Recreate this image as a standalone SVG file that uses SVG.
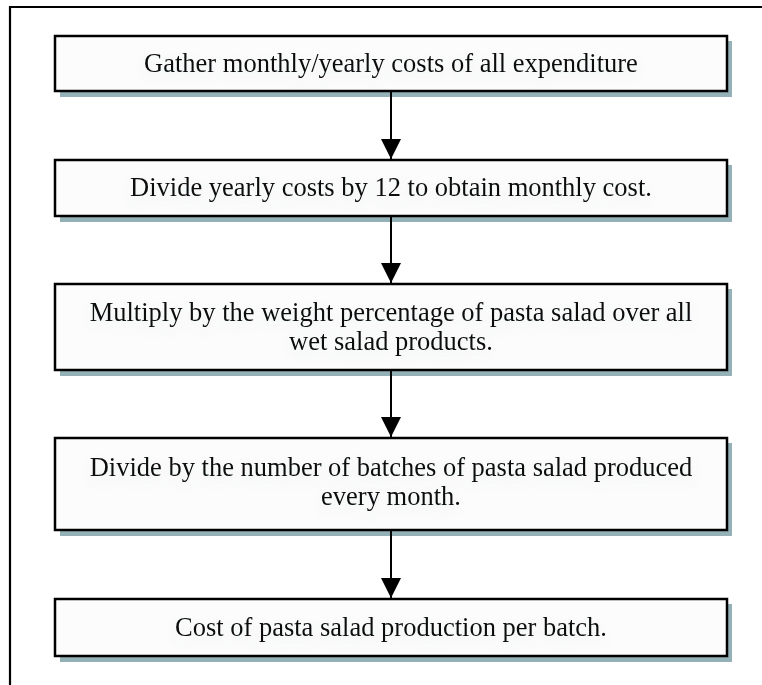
<svg xmlns="http://www.w3.org/2000/svg" width="762" height="685" viewBox="0 0 762 685">
  <defs>
    <style>
      .shadow { fill: #93B1B7; stroke: none; }
      .box { fill: #FCFCFC; stroke: #000; stroke-width: 2.5; }
      .label { font-family: "Liberation Serif", "Times New Roman", serif; font-size: 26.5px; fill: #111; text-anchor: middle; }
      .conn { stroke: #000; stroke-width: 2; fill: none; }
      .frame { stroke: #000; stroke-width: 2.2; fill: none; }
    </style>
    <filter id="glow" x="-10%" y="-60%" width="120%" height="220%">
      <feGaussianBlur in="SourceAlpha" stdDeviation="6" result="b"/>
      <feOffset in="b" dx="0" dy="5" result="o"/>
      <feFlood flood-color="#6f8a90" flood-opacity="0.12"/>
      <feComposite in2="o" operator="in" result="s"/>
      <feMerge><feMergeNode in="s"/><feMergeNode in="SourceGraphic"/></feMerge>
    </filter>
    <marker id="arrow" markerWidth="22" markerHeight="20" refX="22" refY="11" orient="auto" markerUnits="userSpaceOnUse" viewBox="0 0 22 22">
      <path d="M0,0 L22,11 L0,22 Z" fill="#000"/>
    </marker>
  </defs>

  <g id="frame">
    <path class="frame" d="M10,685 L10,7 L762,7"/>
  </g>

  <g id="node1">
    <rect class="shadow" x="60" y="41" width="672" height="56"/>
    <rect class="box" x="55" y="36" width="672" height="55"/>
    <text class="label" x="391" y="72" filter="url(#glow)">Gather monthly/yearly costs of all expenditure</text>
  </g>

  <g id="node2">
    <rect class="shadow" x="60" y="165" width="672" height="57"/>
    <rect class="box" x="55" y="160" width="672" height="56"/>
    <text class="label" x="391" y="196" filter="url(#glow)">Divide yearly costs by 12 to obtain monthly cost.</text>
  </g>

  <g id="node3">
    <rect class="shadow" x="60" y="289" width="672" height="87"/>
    <rect class="box" x="55" y="284" width="672" height="86"/>
    <text class="label" x="391" y="321" filter="url(#glow)">Multiply by the weight percentage of pasta salad over all</text>
    <text class="label" x="391" y="350" filter="url(#glow)">wet salad products.</text>
  </g>

  <g id="node4">
    <rect class="shadow" x="60" y="443" width="672" height="93"/>
    <rect class="box" x="55" y="438" width="672" height="92"/>
    <text class="label" x="391" y="476" filter="url(#glow)">Divide by the number of batches of pasta salad produced</text>
    <text class="label" x="391" y="505" filter="url(#glow)">every month.</text>
  </g>

  <g id="node5">
    <rect class="shadow" x="60" y="604" width="672" height="58"/>
    <rect class="box" x="55" y="599" width="672" height="57"/>
    <text class="label" x="391" y="636" filter="url(#glow)">Cost of pasta salad production per batch.</text>
  </g>

  <g id="connectors">
    <line class="conn" x1="391" y1="92" x2="391" y2="159" marker-end="url(#arrow)"/>
    <line class="conn" x1="391" y1="217" x2="391" y2="283" marker-end="url(#arrow)"/>
    <line class="conn" x1="391" y1="371" x2="391" y2="437" marker-end="url(#arrow)"/>
    <line class="conn" x1="391" y1="531" x2="391" y2="598" marker-end="url(#arrow)"/>
  </g>
</svg>
